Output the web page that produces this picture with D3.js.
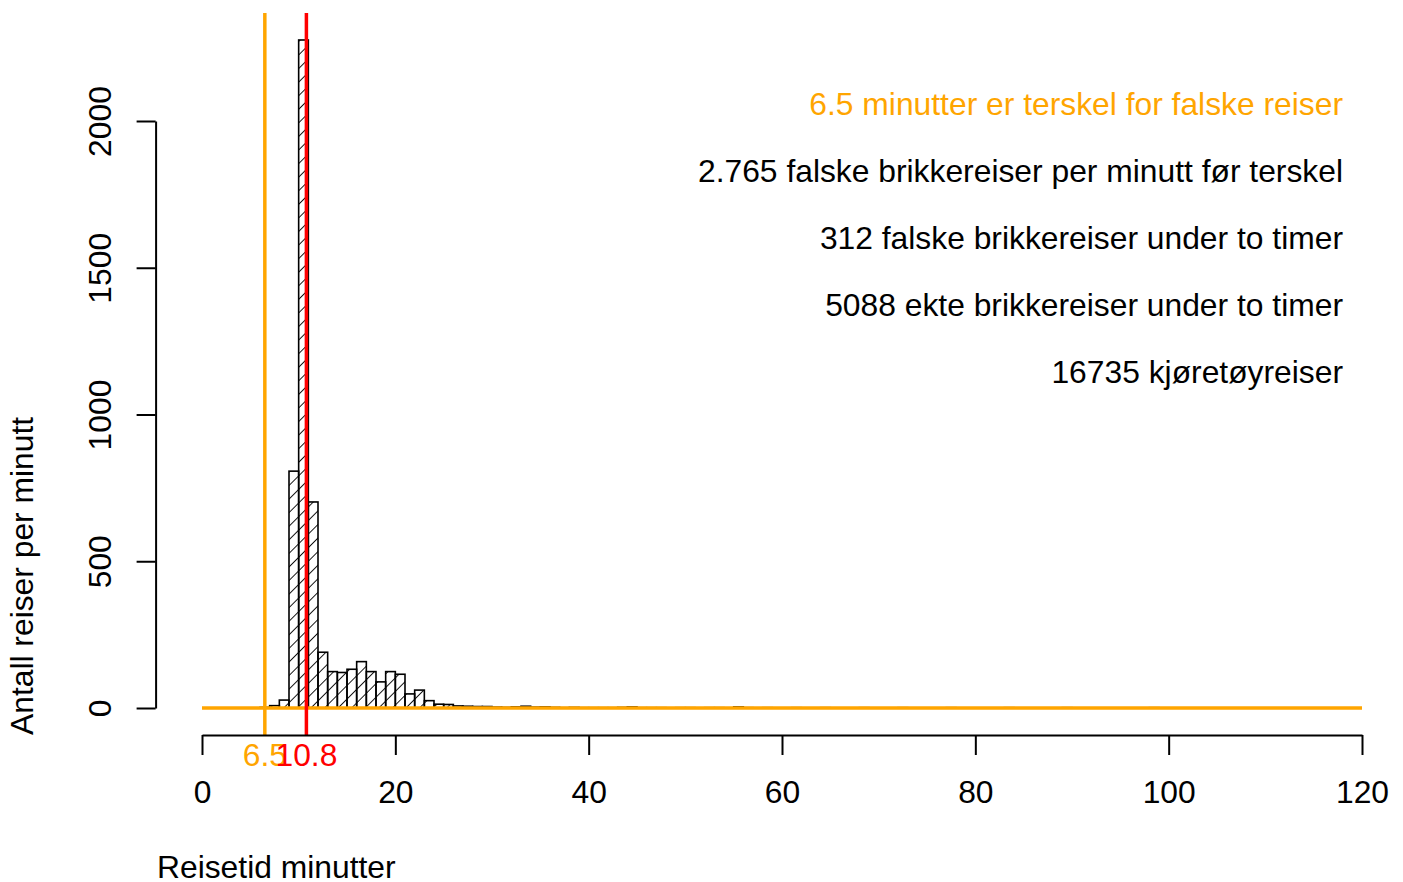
<!DOCTYPE html>
<html><head><meta charset="utf-8">
<script src="https://cdn.jsdelivr.net/npm/d3@7/dist/d3.min.js"></script>
<style>body{margin:0;background:#fff}svg{display:block;font-family:"Liberation Sans",Arial,sans-serif}</style>
</head><body>
<script>
// histogram bins: 1-minute bins starting at 0 .. 119
const binStarts = d3.range(0, 120);
const counts = [
  0,0,0,0,0,0,2,8,27,807,
  2276,702,190,124,121,132,158,124,89,124,
  115,48,61,25,13,12,7,6,5,5,
  3,2,4,6,3,4,2,1,2,1,
  1,1,1,2,4,1,1,1,0,1,
  1,0,1,1,0,4,1,0,1,0,
  0,1,0,0,1,0,0,0,1,0,
  0,0,1,0,0,0,0,1,0,0,
  0,0,0,1,0,0,0,0,0,1,
  0,0,0,0,0,0,0,0,1,0,
  0,0,0,0,0,0,0,0,0,0,
  0,0,0,0,0,0,0,0,0,0
];
const xTicks = [0,20,40,60,80,100,120];
const yTicks = [0,500,1000,1500,2000];
const threshold = 6.5;
const median = 10.8;
const notes = [
  {text:"6.5 minutter er terskel for falske reiser", color:"orange"},
  {text:"2.765 falske brikkereiser per minutt før terskel", color:"black"},
  {text:"312 falske brikkereiser under to timer", color:"black"},
  {text:"5088 ekte brikkereiser under to timer", color:"black"},
  {text:"16735 kjøretøyreiser", color:"black"}
];

const W = 1403, H = 882;
const svg = d3.select("body").append("svg").attr("width", W).attr("height", H);
const x = d3.scaleLinear().domain([0,120]).range([202,1362]);
const y = d3.scaleLinear().domain([0,2000]).range([708,121]);
const plotTop = 13, plotBottom = 735, plotLeft = 155.6;
const fs = 31.8;

const defs = svg.append("defs");
const pat = defs.append("pattern").attr("id","hatch").attr("patternUnits","userSpaceOnUse")
  .attr("width",9.6).attr("height",9.6).attr("patternTransform","rotate(45)");
pat.append("line").attr("x1",0).attr("y1",0).attr("x2",0).attr("y2",9.6)
  .attr("stroke","#000").attr("stroke-width",1.8);

// bars
svg.append("g").selectAll("rect").data(binStarts).join("rect")
  .attr("x", d => x(d)).attr("width", d => x(d+1)-x(d))
  .attr("y", (d,i) => y(counts[i])).attr("height", (d,i) => y(0)-y(counts[i]))
  .attr("fill","url(#hatch)").attr("stroke","#000").attr("stroke-width",1.6);

// orange horizontal line at zero
svg.append("line").attr("x1",x(0)).attr("x2",x(120)).attr("y1",y(0)).attr("y2",y(0))
  .attr("stroke","orange").attr("stroke-width",3.5);

// vertical lines
svg.append("line").attr("x1",x(threshold)).attr("x2",x(threshold)).attr("y1",plotTop).attr("y2",plotBottom)
  .attr("stroke","orange").attr("stroke-width",3.5);
svg.append("line").attr("x1",x(median)).attr("x2",x(median)).attr("y1",plotTop).attr("y2",plotBottom)
  .attr("stroke","red").attr("stroke-width",3.5);

// x axis
const xa = svg.append("g").attr("transform",`translate(0,${plotBottom})`)
  .call(d3.axisBottom(x).tickValues(xTicks).tickSize(20).tickSizeOuter(0).tickPadding(25));
xa.select(".domain").attr("stroke-width",2);
xa.selectAll(".tick line").attr("stroke-width",2);
xa.selectAll("text").attr("font-size",fs).attr("font-family","Liberation Sans, Arial, sans-serif").attr("fill","#000");

// y axis
const ya = svg.append("g").attr("transform",`translate(${plotLeft},0)`)
  .call(d3.axisLeft(y).tickValues(yTicks).tickSize(19).tickSizeOuter(0).tickFormat(d3.format("d")));
ya.select(".domain").attr("stroke-width",2);
ya.selectAll(".tick line").attr("stroke-width",2);
ya.selectAll(".tick text").attr("font-size",fs).attr("font-family","Liberation Sans, Arial, sans-serif").attr("fill","#000")
  .attr("x",0).attr("y",0).attr("text-anchor","middle")
  .attr("transform","translate(-56,0) rotate(-90)").attr("dy","0.35em");

// line labels
svg.append("text").attr("x",x(threshold)).attr("y",766).attr("text-anchor","middle")
  .attr("font-size",fs).attr("fill","orange").text(String(threshold));
svg.append("text").attr("x",x(median)).attr("y",766).attr("text-anchor","middle")
  .attr("font-size",fs).attr("fill","red").text(String(median));

// notes
svg.append("g").selectAll("text").data(notes).join("text")
  .attr("x",1343).attr("y",(d,i)=>104+67*i).attr("dy","0.35em").attr("text-anchor","end")
  .attr("font-size",fs).attr("fill",d=>d.color).text(d=>d.text);

// axis titles
svg.append("text").attr("x",157).attr("y",878).attr("font-size",fs).text("Reisetid minutter");
svg.append("text").attr("transform",`translate(33,${plotBottom}) rotate(-90)`)
  .attr("font-size",fs).text("Antall reiser per minutt");
</script>
</body></html>
